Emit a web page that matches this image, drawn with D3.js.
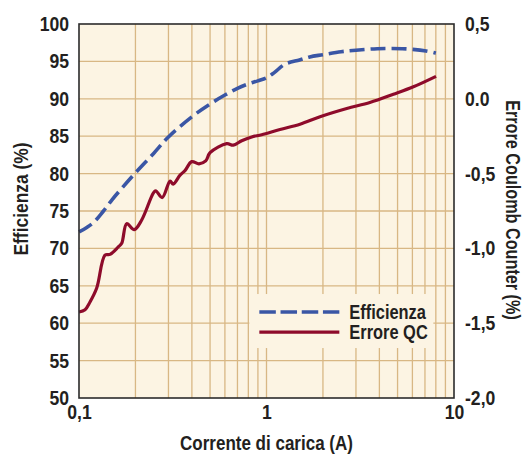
<!DOCTYPE html>
<html>
<head>
<meta charset="utf-8">
<script src="https://cdn.jsdelivr.net/npm/d3@7"></script>
<style>
  html, body { margin: 0; padding: 0; background: #ffffff; }
  svg text { font-family: "Liberation Sans", Arial, Helvetica, sans-serif; font-weight: bold; fill: #231f20; }
</style>
</head>
<body>
<svg id="chart" width="527" height="456"></svg>
<script>
// ---- data ----
const effCurrent = [0.1, 0.11, 0.12, 0.135, 0.15, 0.17, 0.2, 0.25, 0.3, 0.4, 0.5, 0.6, 0.7, 0.8, 0.9, 1.0, 1.1, 1.25, 1.5, 1.7, 2.0, 2.5, 3.0, 3.9, 5.3, 7.1, 8.0];
const efficiency = [72.2, 72.8, 73.5, 75.0, 76.5, 78.1, 80.1, 82.7, 84.9, 87.6, 89.3, 90.5, 91.4, 92.0, 92.4, 92.8, 93.5, 94.6, 95.2, 95.6, 95.9, 96.3, 96.5, 96.7, 96.7, 96.4, 96.1];

const errCurrent = [0.1, 0.1077, 0.1143, 0.1243, 0.1376, 0.1463, 0.162, 0.169, 0.1796, 0.197, 0.216, 0.249, 0.2565, 0.278, 0.306, 0.318, 0.346, 0.3675, 0.399, 0.4365, 0.474, 0.5, 0.6135, 0.665, 0.7375, 0.834, 0.943, 1.18, 1.51, 1.93, 2.68, 3.56, 4.75, 6.07, 8.02];
const errorQC = [-1.425, -1.41, -1.36, -1.265, -1.045, -1.04, -0.99, -0.965, -0.835, -0.875, -0.81, -0.63, -0.615, -0.66, -0.55, -0.57, -0.51, -0.48, -0.42, -0.435, -0.415, -0.36, -0.30, -0.31, -0.28, -0.255, -0.24, -0.205, -0.17, -0.12, -0.065, -0.025, 0.03, 0.08, 0.15];

const xTickValues = [0.1, 1, 10];
const xTickLabels = ["0,1", "1", "10"];
const xGridValues = [0.2, 0.3, 0.4, 0.5, 0.6, 0.7, 0.8, 0.9, 1, 2, 3, 4, 5, 6, 7, 8, 9];
const effTickValues = [50, 55, 60, 65, 70, 75, 80, 85, 90, 95, 100];
const errTickValues = [0.5, 0.0, -0.5, -1.0, -1.5, -2.0];
const errTickLabels = ["0,5", "0.0", "-0,5", "-1,0", "-1,5", "-2,0"];
const seriesNames = ["Efficienza", "Errore QC"];

// ---- layout ----
const margin = { left: 79, top: 24, right: 73, bottom: 58 };
const W = 527, H = 456;
const pw = W - margin.left - margin.right;
const ph = H - margin.top - margin.bottom;

const colBg = "#fcf4e3", colGrid = "#d8b784", colBlue = "#3a56a5", colRed = "#8e0b2b";

// condensed look: squeeze text horizontally
function squeeze(sel, f) {
  sel.each(function () {
    const len = this.getComputedTextLength();
    d3.select(this).attr("textLength", len * f).attr("lengthAdjust", "spacingAndGlyphs");
  });
}

const svg = d3.select("#chart");
const g = svg.append("g").attr("transform", `translate(${margin.left},${margin.top})`);

const x = d3.scaleLog().domain([0.1, 10]).range([0, pw]);
const yL = d3.scaleLinear().domain([50, 100]).range([ph, 0]);
const yR = d3.scaleLinear().domain([-2.0, 0.5]).range([ph, 0]);

g.append("rect").attr("width", pw).attr("height", ph).attr("fill", colBg);

// grid
g.append("g").selectAll("line").data(effTickValues.slice(1, -1)).join("line")
  .attr("x1", 0).attr("x2", pw).attr("y1", d => yL(d)).attr("y2", d => yL(d))
  .attr("stroke", colGrid).attr("stroke-width", 1.3);
g.append("g").selectAll("line").data(xGridValues).join("line")
  .attr("y1", 0).attr("y2", ph).attr("x1", d => x(d)).attr("x2", d => x(d))
  .attr("stroke", colGrid).attr("stroke-width", 1.3);

// legend background (covers grid)
const lg = g.append("g").attr("transform", `translate(${x(0.81)},${yL(63.9)})`);
lg.append("rect").attr("x", 0).attr("y", 0).attr("width", 184).attr("height", 54).attr("fill", colBg);

// lines
const curve = d3.curveCatmullRom.alpha(0.5);
const effLine = d3.line().x(d => x(d[0])).y(d => yL(d[1])).curve(curve);
const errLine = d3.line().x(d => x(d[0])).y(d => yR(d[1])).curve(curve);

g.append("path").datum(effCurrent.map((c, i) => [c, efficiency[i]]))
  .attr("d", effLine).attr("fill", "none").attr("stroke", colBlue)
  .attr("stroke-width", 3.6).attr("stroke-dasharray", "15,6");
g.append("path").datum(errCurrent.map((c, i) => [c, errorQC[i]]))
  .attr("d", errLine).attr("fill", "none").attr("stroke", colRed)
  .attr("stroke-width", 3.2).attr("stroke-linejoin", "round");

// legend content
lg.append("line").attr("x1", 10).attr("x2", 90).attr("y1", 18).attr("y2", 18)
  .attr("stroke", colBlue).attr("stroke-width", 3.6).attr("stroke-dasharray", "16.5,4.7");
lg.append("line").attr("x1", 10).attr("x2", 90).attr("y1", 38).attr("y2", 38)
  .attr("stroke", colRed).attr("stroke-width", 3.2);
lg.selectAll("text.leg").data(seriesNames).join("text").attr("class", "leg")
  .attr("x", 100).attr("y", (d, i) => 18 + i * 20).attr("dy", "0.36em")
  .style("font-size", "20px").text(d => d)
  .call(squeeze, 0.82);

// frame
g.append("rect").attr("width", pw).attr("height", ph).attr("fill", "none")
  .attr("stroke", "#2b2b2b").attr("stroke-width", 1.6);

// axes
const axL = g.append("g").call(d3.axisLeft(yL).tickValues(effTickValues).tickSize(0).tickPadding(10).tickFormat(d3.format("d")));
const axR = g.append("g").attr("transform", `translate(${pw},0)`)
  .call(d3.axisRight(yR).tickValues(errTickValues).tickSize(0).tickPadding(11).tickFormat((d, i) => errTickLabels[i]));
const axB = g.append("g").attr("transform", `translate(0,${ph})`)
  .call(d3.axisBottom(x).tickValues(xTickValues).tickSize(0).tickPadding(7).tickFormat((d, i) => xTickLabels[i]));
[axL, axR, axB].forEach(a => {
  a.select(".domain").remove();
  a.selectAll("text").style("font-size", "20px").attr("fill", "#231f20")
    .attr("font-family", null).call(squeeze, 0.88);
});

// titles
svg.append("text").attr("x", margin.left + pw / 2).attr("y", 450).attr("text-anchor", "middle")
  .style("font-size", "20px").text("Corrente di carica (A)").call(squeeze, 0.85);
svg.append("text").attr("transform", `translate(28,${margin.top + ph / 2 - 12}) rotate(-90)`)
  .attr("text-anchor", "middle").style("font-size", "20px").text("Efficienza (%)").call(squeeze, 0.87);
svg.append("text").attr("transform", `translate(506,${margin.top + ph / 2 - 1}) rotate(90)`)
  .attr("text-anchor", "middle").style("font-size", "20px").text("Errore Coulomb Counter (%)").call(squeeze, 0.81);
</script>
</body>
</html>
